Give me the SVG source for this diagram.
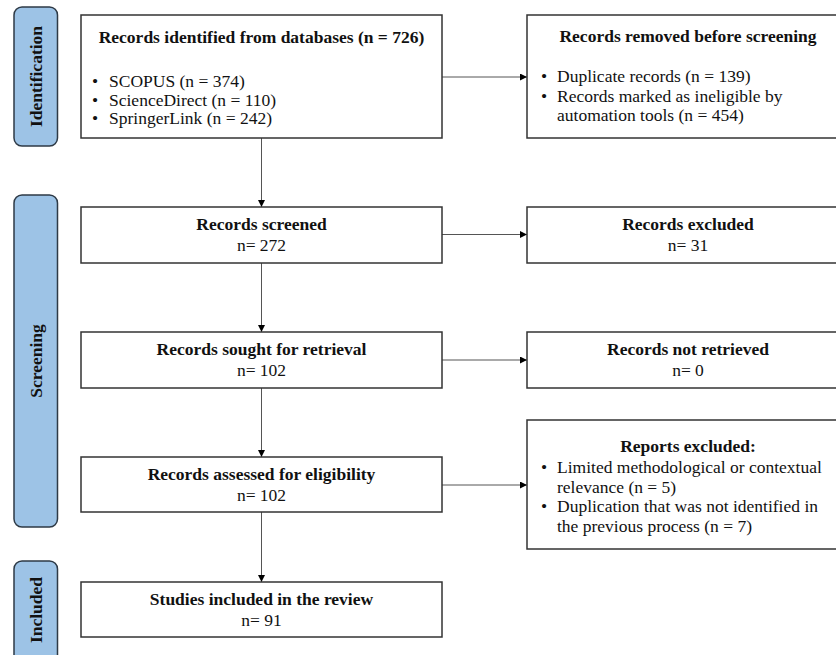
<svg xmlns="http://www.w3.org/2000/svg" width="836" height="655" viewBox="0 0 836 655">
<defs>
<marker id="ah" viewBox="0 0 10 10" refX="10" refY="5" markerWidth="8" markerHeight="7" markerUnits="userSpaceOnUse" orient="auto">
<path d="M0,0 L10,5 L0,10 Z" fill="#000"/>
</marker>
<style>
text{font-family:"Liberation Serif","Times New Roman",serif;font-size:17.5px;fill:#111}
.b{font-weight:bold}
.c{text-anchor:middle}
.box{fill:#fff;stroke:#333;stroke-width:1.5}
.side{fill:#9DC3E6;stroke:#2E3A46;stroke-width:1.5}
.con{stroke:#555;stroke-width:1;fill:none;marker-end:url(#ah)}
</style>
</defs>
<rect width="836" height="655" fill="#fff"/>

<g id="side-identification">
<rect class="side" x="14" y="7" width="43.5" height="139" rx="8"/>
<text class="b c" transform="translate(42,76.5) rotate(-90)">Identification</text>
</g>
<g id="side-screening">
<rect class="side" x="14" y="195" width="43.5" height="332" rx="8"/>
<text class="b c" transform="translate(42,361) rotate(-90)">Screening</text>
</g>
<g id="side-included">
<rect class="side" x="14" y="561" width="43.5" height="104" rx="8"/>
<text class="b c" transform="translate(42,610) rotate(-90)">Included</text>
</g>

<g id="connectors">
<line class="con" x1="442" y1="77" x2="527" y2="77"/>
<line class="con" x1="261.5" y1="138" x2="261.5" y2="207"/>
<line class="con" x1="442" y1="234.5" x2="527" y2="234.5"/>
<line class="con" x1="261.5" y1="263" x2="261.5" y2="332"/>
<line class="con" x1="442" y1="360" x2="527" y2="360"/>
<line class="con" x1="261.5" y1="388" x2="261.5" y2="457"/>
<line class="con" x1="442" y1="485" x2="527" y2="485"/>
<line class="con" x1="261.5" y1="512" x2="261.5" y2="582"/>
</g>

<g id="identified">
<rect class="box" x="81" y="15" width="361" height="123"/>
<text class="b c" x="261.5" y="43">Records identified from databases (n = 726)</text>
<text x="92" y="87">•<tspan x="109">SCOPUS (n = 374)</tspan></text>
<text x="92" y="105.5">•<tspan x="109">ScienceDirect (n = 110)</tspan></text>
<text x="92" y="124">•<tspan x="109">SpringerLink (n = 242)</tspan></text>
</g>

<g id="removed">
<rect class="box" x="527" y="15" width="322" height="123"/>
<text class="b c" x="688" y="42">Records removed before screening</text>
<text x="541" y="82">•<tspan x="557">Duplicate records (n = 139)</tspan></text>
<text x="541" y="101.5">•<tspan x="557">Records marked as ineligible by</tspan></text>
<text x="557" y="121">automation tools (n = 454)</text>
</g>

<g id="screened">
<rect class="box" x="81" y="207" width="361" height="56"/>
<text class="b c" x="261.5" y="230">Records screened</text>
<text class="c" x="261.5" y="251">n= 272</text>
</g>

<g id="excluded">
<rect class="box" x="527" y="207" width="322" height="56"/>
<text class="b c" x="688" y="230">Records excluded</text>
<text class="c" x="688" y="251">n= 31</text>
</g>

<g id="sought">
<rect class="box" x="81" y="332" width="361" height="56"/>
<text class="b c" x="261.5" y="355">Records sought for retrieval</text>
<text class="c" x="261.5" y="376">n= 102</text>
</g>

<g id="notretrieved">
<rect class="box" x="527" y="332" width="322" height="56"/>
<text class="b c" x="688" y="355">Records not retrieved</text>
<text class="c" x="688" y="376">n= 0</text>
</g>

<g id="assessed">
<rect class="box" x="81" y="457" width="361" height="55"/>
<text class="b c" x="261.5" y="480">Records assessed for eligibility</text>
<text class="c" x="261.5" y="501">n= 102</text>
</g>

<g id="reports">
<rect class="box" x="527" y="420" width="322" height="129"/>
<text class="b c" x="688" y="452">Reports excluded:</text>
<text x="541" y="473">•<tspan x="557">Limited methodological or contextual</tspan></text>
<text x="557" y="492.5">relevance (n = 5)</text>
<text x="541" y="512">•<tspan x="557">Duplication that was not identified in</tspan></text>
<text x="557" y="531.5">the previous process (n = 7)</text>
</g>

<g id="included">
<rect class="box" x="81" y="582" width="361" height="55"/>
<text class="b c" x="261.5" y="605">Studies included in the review</text>
<text class="c" x="261.5" y="626">n= 91</text>
</g>
</svg>
